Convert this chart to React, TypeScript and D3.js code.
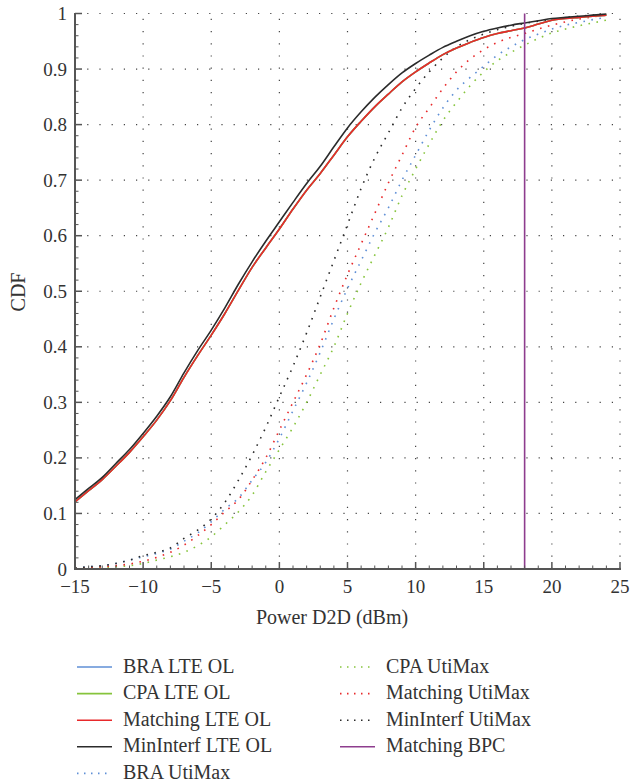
import React, { useEffect, useRef } from 'react';
import * as d3 from 'd3';

// x positions (dBm) used for every curve
const powerDbm = [-15, -14, -13, -12, -11, -10, -9, -8, -7, -6, -5, -4, -3, -2, -1, 0, 1, 2, 3, 4, 5, 6, 7, 8, 9, 10, 11, 12, 13, 14, 15, 16, 17, 18, 19, 20, 21, 22, 23, 24];

// LTE OL curves (solid)
const matchingLteOl = [0.121, 0.141, 0.161, 0.185, 0.21, 0.238, 0.268, 0.303, 0.345, 0.384, 0.421, 0.46, 0.502, 0.543, 0.578, 0.612, 0.648, 0.682, 0.712, 0.745, 0.778, 0.806, 0.832, 0.855, 0.877, 0.895, 0.911, 0.926, 0.938, 0.948, 0.957, 0.964, 0.969, 0.974, 0.981, 0.988, 0.991, 0.993, 0.995, 0.997];
const braLteOl = [0.121, 0.141, 0.161, 0.185, 0.21, 0.238, 0.268, 0.303, 0.345, 0.384, 0.421, 0.46, 0.502, 0.543, 0.578, 0.612, 0.648, 0.682, 0.712, 0.745, 0.778, 0.806, 0.832, 0.855, 0.877, 0.895, 0.911, 0.926, 0.938, 0.948, 0.957, 0.964, 0.969, 0.974, 0.981, 0.988, 0.991, 0.993, 0.995, 0.997];
const cpaLteOl = [0.121, 0.141, 0.161, 0.185, 0.21, 0.238, 0.268, 0.303, 0.345, 0.384, 0.421, 0.46, 0.502, 0.543, 0.578, 0.612, 0.648, 0.682, 0.712, 0.745, 0.778, 0.806, 0.832, 0.855, 0.877, 0.895, 0.911, 0.926, 0.938, 0.948, 0.957, 0.964, 0.969, 0.974, 0.981, 0.988, 0.991, 0.993, 0.995, 0.997];
const minInterfLteOl = [0.125, 0.145, 0.165, 0.19, 0.215, 0.244, 0.275, 0.31, 0.353, 0.393, 0.43, 0.47, 0.513, 0.553, 0.59, 0.625, 0.66, 0.694, 0.725, 0.76, 0.794, 0.823, 0.849, 0.872, 0.893, 0.91, 0.925, 0.939, 0.95, 0.96, 0.968, 0.974, 0.979, 0.983, 0.987, 0.991, 0.993, 0.995, 0.997, 0.999];

// UtiMax curves (dotted)
const braUtiMax = [0.002, 0.004, 0.006, 0.01, 0.016, 0.022, 0.028, 0.036, 0.05, 0.065, 0.085, 0.108, 0.128, 0.16, 0.192, 0.235, 0.285, 0.335, 0.39, 0.45, 0.505, 0.555, 0.605, 0.65, 0.7, 0.745, 0.79, 0.83, 0.862, 0.885, 0.905, 0.925, 0.94, 0.953, 0.963, 0.972, 0.979, 0.984, 0.989, 0.993];
const cpaUtiMax = [0.001, 0.002, 0.003, 0.004, 0.006, 0.01, 0.016, 0.022, 0.03, 0.042, 0.058, 0.08, 0.103, 0.133, 0.175, 0.215, 0.255, 0.3, 0.35, 0.4, 0.46, 0.515, 0.565, 0.615, 0.672, 0.72, 0.765, 0.807, 0.84, 0.87, 0.895, 0.915, 0.93, 0.943, 0.955, 0.965, 0.972, 0.978, 0.983, 0.988];
const matchingUtiMax = [0.001, 0.002, 0.004, 0.006, 0.009, 0.014, 0.021, 0.03, 0.043, 0.06, 0.08, 0.103, 0.125, 0.16, 0.2, 0.25, 0.3, 0.35, 0.405, 0.47, 0.53, 0.585, 0.64, 0.695, 0.745, 0.795, 0.83, 0.865, 0.895, 0.918, 0.935, 0.948, 0.957, 0.964, 0.972, 0.979, 0.985, 0.99, 0.994, 0.997];
const minInterfUtiMax = [0.002, 0.004, 0.006, 0.01, 0.016, 0.024, 0.03, 0.038, 0.055, 0.07, 0.09, 0.12, 0.16, 0.205, 0.255, 0.31, 0.365, 0.425, 0.49, 0.555, 0.62, 0.685, 0.74, 0.785, 0.83, 0.865, 0.895, 0.92, 0.94, 0.953, 0.963, 0.971, 0.977, 0.982, 0.986, 0.99, 0.993, 0.995, 0.997, 0.998];

// Matching BPC: a single power level
const matchingBpc = 18;

const xTicks = [-15, -10, -5, 0, 5, 10, 15, 20, 25];
const yTicks = [0, 0.1, 0.2, 0.3, 0.4, 0.5, 0.6, 0.7, 0.8, 0.9, 1];

const series = [
  { name: 'BRA LTE OL', values: braLteOl, color: '#5f8fd6', dotted: false },
  { name: 'CPA LTE OL', values: cpaLteOl, color: '#86c43c', dotted: false },
  { name: 'Matching LTE OL', values: matchingLteOl, color: '#e8292b', dotted: false },
  { name: 'MinInterf LTE OL', values: minInterfLteOl, color: '#2b2b2b', dotted: false },
  { name: 'BRA UtiMax', values: braUtiMax, color: '#5f8fd6', dotted: true },
  { name: 'CPA UtiMax', values: cpaUtiMax, color: '#86c43c', dotted: true },
  { name: 'Matching UtiMax', values: matchingUtiMax, color: '#e8292b', dotted: true },
  { name: 'MinInterf UtiMax', values: minInterfUtiMax, color: '#2b2b2b', dotted: true },
];
const bpcColor = '#8e3d8e';

export default function App() {
  const ref = useRef<SVGSVGElement>(null);

  useEffect(() => {
    const width = 631;
    const height = 784;
    const left = 75, right = 620, top = 13.5, bottom = 569;
    const font = '"Liberation Serif", "DejaVu Serif", serif';

    const svg = d3.select(ref.current);
    svg.selectAll('*').remove();
    svg.attr('width', width).attr('height', height);

    const x = d3.scaleLinear().domain([-15, 25]).range([left, right]);
    const y = d3.scaleLinear().domain([0, 1]).range([bottom, top]);

    // dotted grid
    const grid = svg.append('g').attr('stroke', '#444').attr('stroke-width', 1.2).attr('stroke-dasharray', '1.2 11');
    xTicks.slice(1).forEach(t => {
      grid.append('line').attr('x1', x(t)).attr('x2', x(t)).attr('y1', bottom).attr('y2', top);
    });
    yTicks.slice(1).forEach(t => {
      grid.append('line').attr('x1', left).attr('x2', right).attr('y1', y(t)).attr('y2', y(t));
    });

    // curves
    const line = d3.line<number>()
      .x((_, i) => x(powerDbm[i]))
      .y(d => y(d))
      .curve(d3.curveMonotoneX);

    const drawOrder = [4, 5, 6, 7, 0, 1, 2, 3];
    drawOrder.forEach(i => {
      const s = series[i];
      svg.append('path')
        .attr('d', line(s.values))
        .attr('fill', 'none')
        .attr('stroke', s.color)
        .attr('stroke-width', 1.6)
        .attr('stroke-dasharray', s.dotted ? '1.6 6.5' : null);
    });

    // Matching BPC vertical line
    svg.append('line')
      .attr('x1', x(matchingBpc)).attr('x2', x(matchingBpc))
      .attr('y1', bottom).attr('y2', top)
      .attr('stroke', bpcColor).attr('stroke-width', 1.6);

    // axes
    const axisColor = '#555';
    svg.append('line').attr('x1', left).attr('x2', left).attr('y1', top - 0.5).attr('y2', bottom + 1)
      .attr('stroke', axisColor).attr('stroke-width', 2);
    svg.append('line').attr('x1', left - 1).attr('x2', right + 1).attr('y1', bottom).attr('y2', bottom)
      .attr('stroke', axisColor).attr('stroke-width', 2);

    // minor + major ticks (inward)
    d3.range(-15, 26, 1).forEach(t => {
      const major = t % 5 === 0;
      svg.append('line').attr('x1', x(t)).attr('x2', x(t))
        .attr('y1', bottom).attr('y2', bottom - (major ? 7 : 3.5))
        .attr('stroke', axisColor).attr('stroke-width', major ? 1.5 : 1);
    });
    d3.range(0, 51, 1).forEach(k => {
      const t = k / 50;
      const major = k % 5 === 0;
      svg.append('line').attr('x1', left).attr('x2', left + (major ? 7 : 3.5))
        .attr('y1', y(t)).attr('y2', y(t))
        .attr('stroke', axisColor).attr('stroke-width', major ? 1.5 : 1);
    });

    // tick labels
    svg.append('g').selectAll('text').data(xTicks).enter().append('text')
      .attr('x', d => x(d)).attr('y', 593)
      .attr('text-anchor', 'middle')
      .style('font-family', font).style('font-size', '19px').attr('fill', '#333')
      .text(d => d < 0 ? '\u2212' + Math.abs(d) : String(d));
    svg.append('g').selectAll('text').data(yTicks).enter().append('text')
      .attr('x', 67).attr('y', d => y(d) + 6.5)
      .attr('text-anchor', 'end')
      .style('font-family', font).style('font-size', '19px').attr('fill', '#333')
      .text(d => d === 0 ? '0' : d === 1 ? '1' : d.toFixed(1));

    // axis titles
    svg.append('text').attr('x', 332).attr('y', 624).attr('text-anchor', 'middle')
      .style('font-family', font).style('font-size', '20px').attr('fill', '#333')
      .text('Power D2D (dBm)');
    svg.append('text').attr('transform', 'translate(25, 292) rotate(-90)').attr('text-anchor', 'middle')
      .style('font-family', font).style('font-size', '20px').attr('fill', '#333')
      .text('CDF');

    // legend: two columns
    const legendItems = [...series, { name: 'Matching BPC', values: [], color: bpcColor, dotted: false }];
    legendItems.forEach((s, i) => {
      const col = i < 5 ? 0 : 1;
      const row = i < 5 ? i : i - 5;
      const lx = col === 0 ? 77 : 340;
      const ly = 667 + row * 26.6;
      svg.append('line').attr('x1', lx).attr('x2', lx + 35).attr('y1', ly).attr('y2', ly)
        .attr('stroke', s.color).attr('stroke-width', 1.6)
        .attr('stroke-dasharray', s.dotted ? '1.5 5.5' : null);
      svg.append('text').attr('x', lx + 46).attr('y', ly + 5.5)
        .style('font-family', font).style('font-size', '20px').attr('fill', '#333')
        .text(s.name);
    });
  }, []);

  return (
    <svg ref={ref} style={{ position: 'absolute', left: 0, top: 0, background: 'white' }}></svg>
  );
}
